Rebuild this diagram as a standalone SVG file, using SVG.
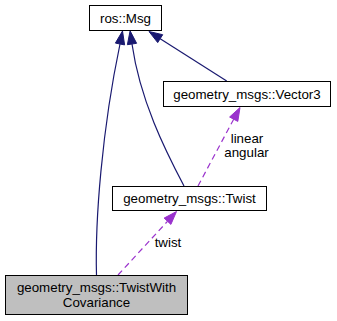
<svg xmlns="http://www.w3.org/2000/svg" width="337" height="321" viewBox="0 0 337 321">
  <style>
    .box { fill: #ffffff; stroke: #000000; stroke-width: 1; }
    .cur { fill: #bfbfbf; stroke: #000000; stroke-width: 1; }
    .lbl { font-family: "Liberation Sans", Arial, Helvetica, sans-serif; font-size: 13.33px; fill: #000000; text-anchor: middle; }
    .inh { fill: none; stroke: #191970; stroke-width: 1.2; }
    .inh-head { fill: #191970; stroke: #191970; stroke-width: 1; }
    .use { fill: none; stroke: #9a32cd; stroke-width: 1.2; stroke-dasharray: 6,4; }
    .use-head { fill: #9a32cd; stroke: #9a32cd; stroke-width: 1; }
  </style>
  <rect width="337" height="321" fill="#ffffff"/>

  <g id="edges">
    <!-- TwistWithCovariance -> ros::Msg -->
    <path class="inh" d="M96.5,275 C95,220 102,130 120,44"/>
    <polygon class="inh-head" points="122.5,31 124.6,44.9 115.4,43.1"/>
    <!-- Twist -> ros::Msg -->
    <path class="inh" d="M184,186 C165,150 140,100 132,44"/>
    <polygon class="inh-head" points="130.1,30.8 136.6,43.3 127.4,44.7"/>
    <!-- Vector3 -> ros::Msg -->
    <path class="inh" d="M226.7,81 L160.2,38.7"/>
    <polygon class="inh-head" points="149,31.5 162.7,34.7 157.7,42.6"/>
    <!-- Vector3 used by Twist (linear, angular) -->
    <path class="use" d="M198,186 L233.7,119.2"/>
    <polygon class="use-head" points="240,107.5 237.8,121.4 229.6,117"/>
    <text class="lbl" x="247" y="143">linear</text>
    <text class="lbl" x="246.5" y="157">angular</text>
    <!-- Twist used by TwistWithCovariance (twist) -->
    <path class="use" d="M118,275 L167.5,221.3"/>
    <polygon class="use-head" points="176.5,211.5 170.9,224.4 164.1,218.1"/>
    <text class="lbl" x="168" y="247">twist</text>
  </g>

  <g id="node-ros-msg">
    <rect class="box" x="89.5" y="5.5" width="72" height="25"/>
    <text class="lbl" x="125.5" y="22.5">ros::Msg</text>
  </g>

  <g id="node-vector3">
    <rect class="box" x="163.5" y="81.5" width="167" height="25"/>
    <text class="lbl" x="247" y="98.5">geometry_msgs::Vector3</text>
  </g>

  <g id="node-twist">
    <rect class="box" x="112.5" y="186.5" width="154" height="24"/>
    <text class="lbl" x="189.5" y="203">geometry_msgs::Twist</text>
  </g>

  <g id="node-twist-with-covariance">
    <rect class="cur" x="5.5" y="275.5" width="182" height="39"/>
    <text class="lbl" x="96.5" y="292">geometry_msgs::TwistWith</text>
    <text class="lbl" x="96.5" y="307">Covariance</text>
  </g>
</svg>
